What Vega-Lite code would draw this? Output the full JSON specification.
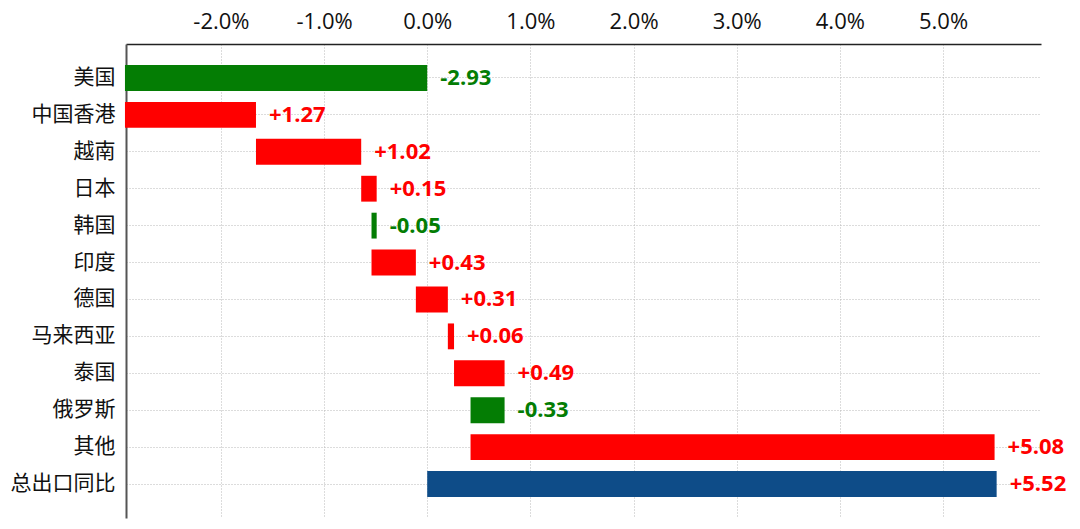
{
  "$schema": "https://vega.github.io/schema/vega-lite/v6.json",
  "width": 915,
  "height": 474,
  "autosize": {"type": "none"},
  "padding": {"left": 126, "top": 44, "right": 39, "bottom": 11},
  "background": "white",
  "config": {
    "view": {"stroke": null},
    "font": "Open Sans, Noto Sans CJK SC, sans-serif",
    "axis": {
      "labelFont": "Open Sans, Noto Sans CJK SC, sans-serif",
      "labelColor": "#111111",
      "ticks": false,
      "gridColor": "#b8b8b8",
      "gridDash": [1, 2],
      "gridWidth": 1,
      "title": null
    }
  },
  "data": {
    "values": [
      {"region": "美国", "start": 0, "end": -2.93, "label": "-2.93", "kind": "down"},
      {"region": "中国香港", "start": -2.93, "end": -1.66, "label": "+1.27", "kind": "up"},
      {"region": "越南", "start": -1.66, "end": -0.64, "label": "+1.02", "kind": "up"},
      {"region": "日本", "start": -0.64, "end": -0.49, "label": "+0.15", "kind": "up"},
      {"region": "韩国", "start": -0.49, "end": -0.54, "label": "-0.05", "kind": "down"},
      {"region": "印度", "start": -0.54, "end": -0.11, "label": "+0.43", "kind": "up"},
      {"region": "德国", "start": -0.11, "end": 0.2, "label": "+0.31", "kind": "up"},
      {"region": "马来西亚", "start": 0.2, "end": 0.26, "label": "+0.06", "kind": "up"},
      {"region": "泰国", "start": 0.26, "end": 0.75, "label": "+0.49", "kind": "up"},
      {"region": "俄罗斯", "start": 0.75, "end": 0.42, "label": "-0.33", "kind": "down"},
      {"region": "其他", "start": 0.42, "end": 5.5, "label": "+5.08", "kind": "up"},
      {"region": "总出口同比", "start": 0, "end": 5.52, "label": "+5.52", "kind": "total"}
    ]
  },
  "encoding": {
    "y": {
      "field": "region",
      "type": "nominal",
      "sort": null,
      "scale": {"paddingInner": 0.3, "paddingOuter": 0.57},
      "axis": {
        "orient": "left",
        "domainColor": "#555555",
        "domainWidth": 2,
        "labelFontSize": 21,
        "labelPadding": 11,
        "grid": true,
        "bandPosition": 0.5
      }
    }
  },
  "layer": [
    {
      "mark": {"type": "bar"},
      "encoding": {
        "x": {
          "field": "start",
          "type": "quantitative",
          "scale": {"domain": [-2.92, 5.95], "nice": false, "zero": false},
          "axis": {
            "orient": "top",
            "values": [-2, -1, 0, 1, 2, 3, 4, 5],
            "labelExpr": "(datum.value < 0 ? '-' : '') + format(abs(datum.value), '.1f') + '%'",
            "domainColor": "#222222",
            "domainWidth": 1.5,
            "labelFontSize": 22,
            "labelPadding": 11,
            "grid": true
          }
        },
        "x2": {"field": "end"},
        "color": {
          "field": "kind",
          "type": "nominal",
          "scale": {"domain": ["up", "down", "total"], "range": ["#ff0000", "#047d04", "#0e4c88"]},
          "legend": null
        }
      }
    },
    {
      "mark": {"type": "rule", "color": "#222222", "strokeWidth": 1.5},
      "encoding": {"x": {"datum": 0, "type": "quantitative"}}
    },
    {
      "transform": [{"calculate": "max(datum.start, datum.end)", "as": "hi"}],
      "mark": {"type": "text", "align": "left", "baseline": "middle", "dx": 13, "fontSize": 22, "fontWeight": "bold"},
      "encoding": {
        "x": {"field": "hi", "type": "quantitative"},
        "text": {"field": "label"},
        "color": {
          "condition": {"test": "datum.kind === 'down'", "value": "#047d04"},
          "value": "#ff0000"
        }
      }
    }
  ]
}
